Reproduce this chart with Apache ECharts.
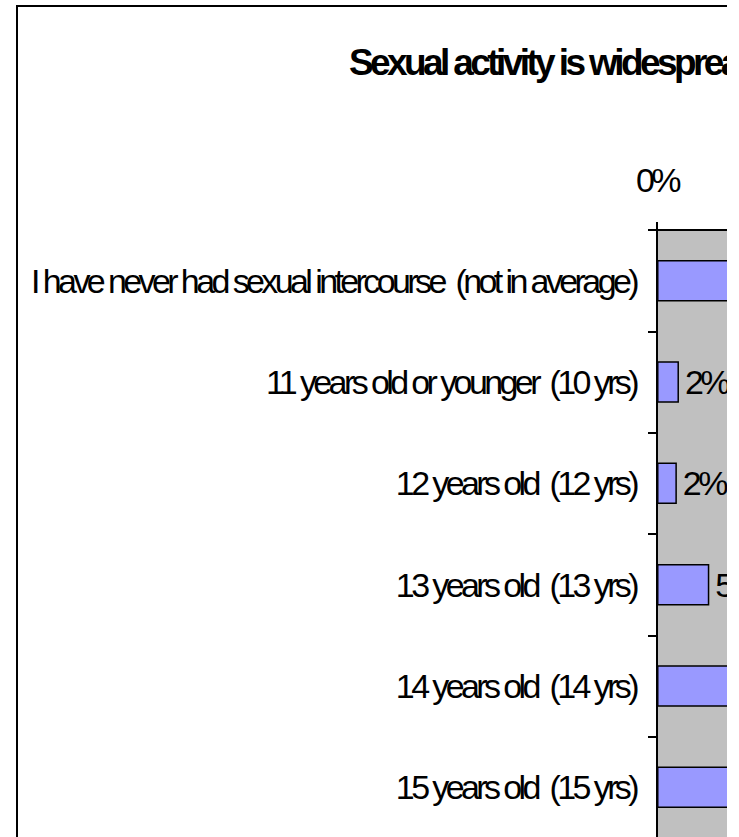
<!DOCTYPE html>
<html>
<head>
<meta charset="utf-8">
<script src="https://cdn.jsdelivr.net/npm/echarts@6/dist/echarts.min.js"></script>
<style>
    html, body { margin: 0; padding: 0; background: #fff; }
    .clip { width: 727px; height: 837px; overflow: hidden; position: relative; }
    #chart { width: 1800px; height: 900px; }
    /* the original text is drawn very tight, letters touching */
    #chart text { letter-spacing: -3.6px; }
</style>
</head>
<body>
<div class="clip"><div id="chart"></div></div>
<script>
// chart data (right part of the original is cut off)
const titleText = "Sexual activity is widespread";
const categories = [
    "I have never had sexual intercourse  (not in average)",
    "11 years old or younger  (10 yrs)",
    "12 years old  (12 yrs)",
    "13 years old  (13 yrs)",
    "14 years old  (14 yrs)",
    "15 years old  (15 yrs)",
];
const shares = [61, 2.1, 1.9, 5, 9, 12];
const axisMin = 0;
const axisMax = 100;
const axisStep = 10;

const font = "'Liberation Sans', Arial, sans-serif";

let mychart = echarts.init(document.getElementById("chart"), null, { renderer: "svg" });
let option = {
    backgroundColor: "#fff",
    animation: false,
    graphic: [
        {
            type: "rect",
            shape: { x: 17, y: 6, width: 3000, height: 3000 },
            style: { fill: "none", stroke: "#000", lineWidth: 2 },
            z: 100,
        },
        {
            type: "text",
            x: 349, y: 62,
            style: {
                text: titleText,
                font: "bold 37px " + font,
                fill: "#000",
                textVerticalAlign: "middle",
            },
        },
    ],
    grid: {
        left: 657, top: 230, width: 1046, height: 608,
        outerBoundsMode: "none",
        containLabel: false,
        show: true, backgroundColor: "#C0C0C0", borderWidth: 0,
    },
    xAxis: {
        type: "value",
        position: "top",
        min: axisMin, max: axisMax, interval: axisStep,
        axisLine: { show: true, lineStyle: { color: "#000", width: 2 } },
        axisTick: { show: true, length: 8, lineStyle: { color: "#000", width: 2 } },
        axisLabel: {
            margin: 33, color: "#000", fontSize: 34, fontFamily: font,
            formatter: (v) => v + "%",
        },
        splitLine: { show: false },
    },
    yAxis: {
        type: "category",
        inverse: true,
        data: categories,
        axisLine: { show: true, lineStyle: { color: "#000", width: 2 } },
        axisTick: { show: true, length: 9, lineStyle: { color: "#000", width: 2 } },
        axisLabel: { margin: 21, color: "#000", fontSize: 34, fontFamily: font },
    },
    series: [{
        type: "bar",
        data: shares,
        barWidth: "41%",
        itemStyle: { color: "#9999FF", borderColor: "#000", borderWidth: 1.5 },
        label: {
            show: true, position: "right", distance: 6,
            color: "#000", fontSize: 34, fontFamily: font,
            formatter: (p) => Math.round(p.value) + "%",
        },
    }],
};
mychart.setOption(option);
</script>
</body>
</html>
